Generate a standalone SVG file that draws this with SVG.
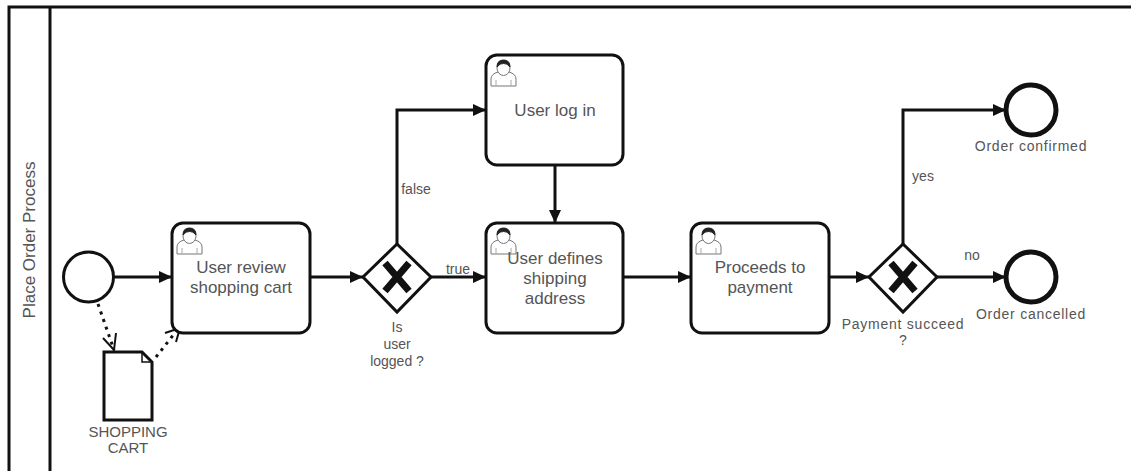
<svg xmlns="http://www.w3.org/2000/svg" width="1131" height="471" viewBox="0 0 1131 471">
<style>
text{font-family:"Liberation Sans",Arial,sans-serif;fill:#555;text-anchor:middle}
.t{font-size:17px}.l{font-size:14px}.s{font-size:15px}.w{font-size:14px;letter-spacing:.75px}
.task{fill:#fff;stroke:#111;stroke-width:3}
.flow{fill:none;stroke:#111;stroke-width:3}
.assoc{fill:none;stroke:#111;stroke-width:3;stroke-dasharray:3 5}
.open{fill:none;stroke:#111;stroke-width:2}
.gw{fill:#fff;stroke:#111;stroke-width:3}
.x{fill:none;stroke:#111;stroke-width:7}
</style>
<defs>
<marker id="a" markerUnits="userSpaceOnUse" markerWidth="14" markerHeight="14" refX="13" refY="7" orient="auto"><path d="M0 1 L13 7 L0 13Z" fill="#111"/></marker>
<g id="user" fill="#fff" stroke="#777" stroke-width="1">
<path d="M1 27 V20 Q1 15 8 13 H19 Q26 15 26 20 V27Z"/>
<path d="M6 27V21M21 27V21" stroke="#aaa"/>
<ellipse cx="13.500" cy="9" rx="6.500" ry="7.500"/>
<path d="M7 8 Q7 1 13.500 1 Q20 1 20 8 Q17 4 13.500 4.500 Q10 4 7 8Z" fill="#222" stroke="#222"/>
</g>
</defs>
<g id="pool" fill="none" stroke="#111" stroke-width="3">
<path d="M9 471V7H1131"/><path d="M50 7V471"/>
</g>
<text class="t" transform="translate(35 240) rotate(-90)">Place Order Process</text>
<g id="connectors">
<path class="flow" d="M114 277H172" marker-end="url(#a)"/>
<path class="flow" d="M310 277H363" marker-end="url(#a)"/>
<path class="flow" d="M431 277H486" marker-end="url(#a)"/>
<path class="flow" d="M397 244V110H486" marker-end="url(#a)"/>
<path class="flow" d="M555 165V223" marker-end="url(#a)"/>
<path class="flow" d="M623 277H691" marker-end="url(#a)"/>
<path class="flow" d="M829 277H869" marker-end="url(#a)"/>
<path class="flow" d="M903 244V110H1006" marker-end="url(#a)"/>
<path class="flow" d="M937 277H1006" marker-end="url(#a)"/>
<path class="assoc" d="M98 304L114 350"/>
<path class="open" d="M103 338L114 350L116 333"/>
<path class="assoc" d="M156 357L178 329"/>
<path class="open" d="M165 333L180 328L176 342"/>
</g>
<g id="start"><circle cx="88.500" cy="277" r="25" fill="#fff" stroke="#111" stroke-width="3"/></g>
<g id="doc">
<path d="M104 352H142L152 362V420H104Z" fill="#fff" stroke="#111" stroke-width="3"/>
<path d="M142 352V362H152" fill="none" stroke="#111" stroke-width="1.500"/>
<text class="s" x="128" y="437">SHOPPING</text><text class="s" x="128" y="453">CART</text>
</g>
<g id="task1"><rect class="task" x="172" y="223" width="138" height="110" rx="11"/><use href="#user" x="176" y="227"/>
<text class="t" x="241" y="273">User review</text><text class="t" x="241" y="293">shopping cart</text></g>
<g id="gw1"><path class="gw" d="M397 244L431 277L397 312L363 277Z"/><path class="x" d="M385 263L409 291M409 263L385 291"/>
<text class="l" x="397" y="332">Is</text><text class="l" x="397" y="349">user</text><text class="l" x="397" y="366">logged ?</text></g>
<g id="task2"><rect class="task" x="486" y="55" width="137" height="110" rx="11"/><use href="#user" x="490" y="59"/>
<text class="t" x="555" y="116">User log in</text></g>
<g id="task3"><rect class="task" x="486" y="223" width="137" height="110" rx="11"/><use href="#user" x="490" y="227"/>
<text class="t" x="555" y="264">User defines</text><text class="t" x="555" y="284">shipping</text><text class="t" x="555" y="304">address</text></g>
<g id="task4"><rect class="task" x="691" y="223" width="138" height="110" rx="11"/><use href="#user" x="695" y="227"/>
<text class="t" x="760" y="273">Proceeds to</text><text class="t" x="760" y="293">payment</text></g>
<g id="gw2"><path class="gw" d="M903 244L937 277L903 312L869 277Z"/><path class="x" d="M891 263L915 291M915 263L891 291"/>
<text class="w" x="903" y="329">Payment succeed</text><text class="l" x="903" y="345">?</text></g>
<g id="end1"><circle cx="1031" cy="110" r="25" fill="#fff" stroke="#111" stroke-width="5"/><text class="w" x="1031" y="151">Order confirmed</text></g>
<g id="end2"><circle cx="1031" cy="277" r="25" fill="#fff" stroke="#111" stroke-width="5"/><text class="w" x="1031" y="319">Order cancelled</text></g>
<g id="labels">
<text class="l" x="416" y="194">false</text><text class="l" x="458" y="274">true</text>
<text class="l" x="923" y="181">yes</text><text class="l" x="972" y="260">no</text>
</g>
</svg>
